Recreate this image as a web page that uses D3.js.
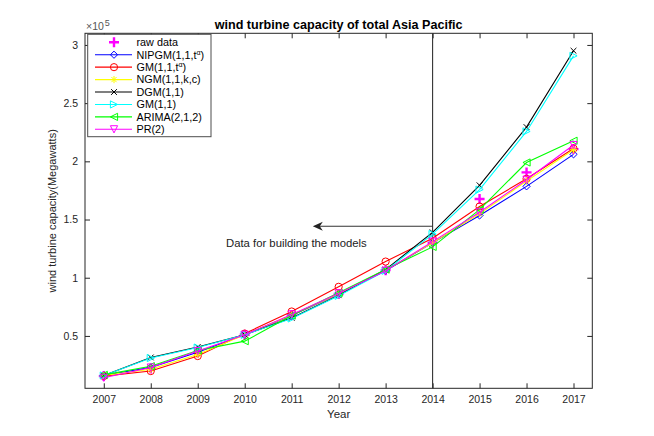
<!DOCTYPE html>
<html>
<head>
<meta charset="utf-8">
<script src="https://cdn.jsdelivr.net/npm/d3@7"></script>
<style>
  body { margin: 0; background: #fff; }
  svg { display: block; font-family: "Liberation Sans", Arial, sans-serif; }
</style>
</head>
<body>
<div id="chart"></div>
<script>
// years and series (Megawatts)
const years = [2007, 2008, 2009, 2010, 2011, 2012, 2013, 2014, 2015, 2016, 2017];
const rawData = [15500, 22000, 35500, 51000, 68000, 86000, 106500, 130000, 167700, 190500, 210500];
const nipgm   = [16000, 23000, 36000, 51000, 67500, 86000, 106000, 130000, 153500, 178500, 206000];
const gmTa    = [15500, 19800, 32700, 52000, 71000, 92200, 113900, 134000, 161200, 185000, 211000];
const ngm     = [16000, 21400, 34000, 51000, 68000, 86000, 106500, 130000, 155000, 183000, 210000];
const dgm     = [16000, 31500, 40500, 51000, 65500, 85000, 107000, 139000, 179400, 229400, 295000];
const gm11    = [16000, 31000, 40000, 51000, 65000, 84500, 106000, 137500, 175700, 225700, 290600];
const arima   = [16500, 24000, 37500, 45500, 67500, 87000, 107000, 126500, 158500, 199000, 217700];
const pr2     = [14000, 22800, 37000, 51000, 68500, 86500, 106000, 131000, 156200, 184200, 214000];
const yTicks = [50000, 100000, 150000, 200000, 250000, 300000];

const series = [
  { name: 'raw data', values: rawData, color: '#ff00ff', marker: 'plus', line: false },
  { name: 'NIPGM(1,1,t', sup: 'α', tail: ')', values: nipgm, color: '#0000ff', marker: 'diamond', line: true },
  { name: 'GM(1,1,t', sup: 'α', tail: ')', values: gmTa, color: '#ff0000', marker: 'circle', line: true },
  { name: 'NGM(1,1,k,c)', values: ngm, color: '#ffff00', marker: 'star', line: true },
  { name: 'DGM(1,1)', values: dgm, color: '#000000', marker: 'x', line: true },
  { name: 'GM(1,1)', values: gm11, color: '#00ffff', marker: 'tri-right', line: true },
  { name: 'ARIMA(2,1,2)', values: arima, color: '#00ff00', marker: 'tri-left', line: true },
  { name: 'PR(2)', values: pr2, color: '#ff00ff', marker: 'tri-down', line: true },
];

const width = 654, height = 436;
const area = { left: 85, right: 592.3, top: 33.3, bottom: 388.3 };
const axisColor = '#262626';

const svg = d3.select('#chart').append('svg')
  .attr('width', width).attr('height', height);
svg.append('rect').attr('width', width).attr('height', height).attr('fill', '#fff');

const xScale = d3.scaleLinear().domain([2006.6, 2017.4]).range([area.left, area.right]);
const yScale = d3.scaleLinear().domain([5000, 310000]).range([area.bottom, area.top]);

// markers
function drawMarker(g, type, x, y, color) {
  const s = 3.6;
  const m = g.append('g').attr('transform', `translate(${x},${y})`)
    .attr('fill', 'none').attr('stroke', color).attr('stroke-width', 1);
  if (type === 'plus') {
    m.attr('stroke-width', 2.4);
    m.append('path').attr('d', `M${-5},0H5M0,${-5}V5`);
  } else if (type === 'diamond') {
    m.append('path').attr('d', `M0,${-s}L${s},0L0,${s}L${-s},0Z`);
  } else if (type === 'circle') {
    m.append('circle').attr('r', s);
  } else if (type === 'star') {
    const d = s * 0.72;
    m.append('path').attr('d', `M${-s},0H${s}M0,${-s}V${s}M${-d},${-d}L${d},${d}M${-d},${d}L${d},${-d}`);
  } else if (type === 'x') {
    const d = s * 0.8;
    m.append('path').attr('d', `M${-d},${-d}L${d},${d}M${-d},${d}L${d},${-d}`);
  } else if (type === 'tri-right') {
    m.append('path').attr('d', `M${s},0L${-s},${-s}L${-s},${s}Z`);
  } else if (type === 'tri-left') {
    m.append('path').attr('d', `M${-s},0L${s},${-s}L${s},${s}Z`);
  } else if (type === 'tri-down') {
    m.append('path').attr('d', `M0,${s}L${-s},${-s}L${s},${-s}Z`);
  }
}

// axes box with inward ticks
const axes = svg.append('g').attr('class', 'axes');
axes.append('rect')
  .attr('x', area.left).attr('y', area.top)
  .attr('width', area.right - area.left).attr('height', area.bottom - area.top)
  .attr('fill', 'none').attr('stroke', axisColor).attr('stroke-width', 1);

const xAxis = svg.append('g')
  .attr('transform', `translate(0,${area.bottom})`)
  .call(d3.axisBottom(xScale).tickValues(years).tickFormat(d3.format('d')).tickSize(-5).tickPadding(7));
const xAxisTop = svg.append('g')
  .attr('transform', `translate(0,${area.top})`)
  .call(d3.axisTop(xScale).tickValues(years).tickFormat('').tickSize(-5));
const yAxis = svg.append('g')
  .attr('transform', `translate(${area.left},0)`)
  .call(d3.axisLeft(yScale).tickValues(yTicks).tickFormat((d) => d3.format('~g')(d / 1e5)).tickSize(-5).tickPadding(7));
const yAxisRight = svg.append('g')
  .attr('transform', `translate(${area.right},0)`)
  .call(d3.axisRight(yScale).tickValues(yTicks).tickFormat('').tickSize(-5));

[xAxis, xAxisTop, yAxis, yAxisRight].forEach((a) => {
  a.select('.domain').remove();
  a.selectAll('line').attr('stroke', axisColor);
  a.selectAll('text').attr('fill', axisColor).style('font-size', '10.5px')
    .style('font-family', '"Liberation Sans", Arial, sans-serif');
});

// exponent label
const expo = svg.append('text').attr('x', area.left + 1).attr('y', 30)
  .attr('fill', '#555').style('font-size', '10.5px');
expo.append('tspan').text('×10');
expo.append('tspan').attr('dy', -4).attr('dx', 1).style('font-size', '9px').text('5');

// title and labels
svg.append('text').attr('x', (area.left + area.right) / 2).attr('y', 28.5)
  .attr('text-anchor', 'middle').style('font-size', '12.6px').style('font-weight', 'bold')
  .attr('fill', '#000').text('wind turbine capacity of total Asia Pacific');
svg.append('text').attr('x', (area.left + area.right) / 2).attr('y', 418)
  .attr('text-anchor', 'middle').style('font-size', '11.5px').attr('fill', axisColor).text('Year');
svg.append('text')
  .attr('transform', `translate(56,${(area.top + area.bottom) / 2}) rotate(-90)`)
  .attr('text-anchor', 'middle').style('font-size', '11px').attr('fill', axisColor)
  .text('wind turbine capacity(Megawatts)');

// vertical divider at 2014
svg.append('line')
  .attr('x1', xScale(2014)).attr('x2', xScale(2014))
  .attr('y1', area.top).attr('y2', area.bottom)
  .attr('stroke', '#333').attr('stroke-width', 1.1);

// arrow annotation
const ax0 = xScale(2014), ax1 = xScale(2011.45), ay = yScale(144200);
svg.append('line').attr('x1', ax0).attr('x2', ax1 + 6).attr('y1', ay).attr('y2', ay)
  .attr('stroke', '#333').attr('stroke-width', 1.1);
svg.append('path')
  .attr('d', `M${ax1},${ay}L${ax1 + 10},${ay - 4.5}L${ax1 + 7},${ay}L${ax1 + 10},${ay + 4.5}Z`)
  .attr('fill', '#222');
svg.append('text').attr('x', xScale(2011.1)).attr('y', yScale(130000) + 3.8)
  .attr('text-anchor', 'middle').style('font-size', '11.3px').attr('fill', '#222')
  .text('Data for building the models');

// series lines and markers
const line = d3.line().x((d, i) => xScale(years[i])).y((d) => yScale(d));
const plot = svg.append('g').attr('class', 'series');
series.forEach((s) => {
  const g = plot.append('g');
  if (s.line) {
    g.append('path').datum(s.values).attr('d', line)
      .attr('fill', 'none').attr('stroke', s.color).attr('stroke-width', 1.1);
  }
  s.values.forEach((v, i) => drawMarker(g, s.marker, xScale(years[i]), yScale(v), s.color));
});

// legend
const lg = svg.append('g').attr('class', 'legend');
lg.append('rect').attr('x', 87.7).attr('y', 34.3).attr('width', 123.3).attr('height', 102.4)
  .attr('fill', '#fff').attr('stroke', '#4d4d4d').attr('stroke-width', 1);
series.forEach((s, i) => {
  const y = 42.3 + i * 12.43;
  const g = lg.append('g');
  if (s.line) {
    g.append('line').attr('x1', 95).attr('x2', 132).attr('y1', y).attr('y2', y)
      .attr('stroke', s.color).attr('stroke-width', 1.1);
  }
  drawMarker(g, s.marker, 114, y, s.color);
  const t = g.append('text').attr('x', 136.5).attr('y', y + 3.8)
    .style('font-size', '10.8px').attr('fill', '#000');
  t.append('tspan').text(s.name);
  if (s.sup) {
    t.append('tspan').attr('dy', -3.8).style('font-size', '7px').text(s.sup);
    t.append('tspan').attr('dy', 3.8).text(s.tail);
  }
});
</script>
</body>
</html>
